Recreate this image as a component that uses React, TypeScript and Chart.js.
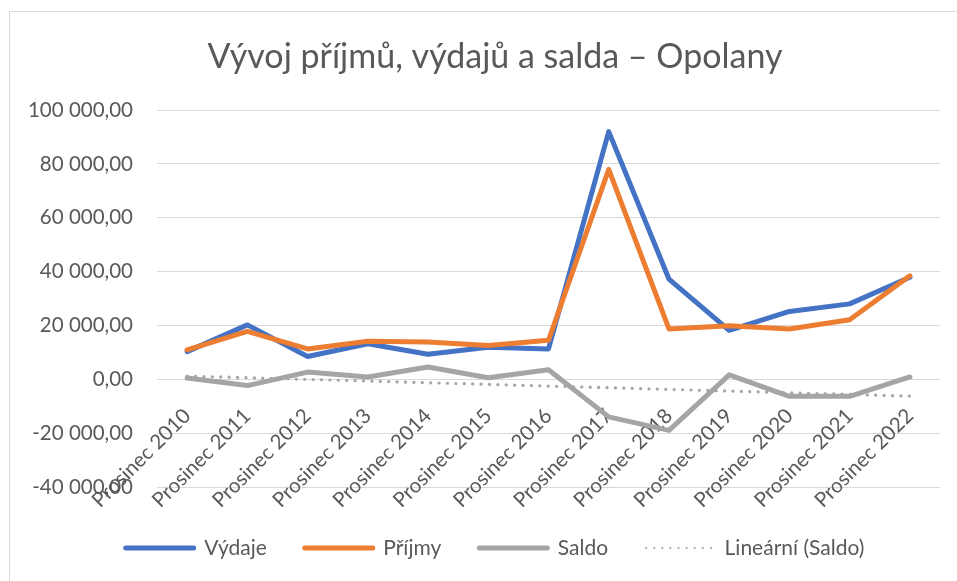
import React, { useEffect, useRef } from "react";
import { Chart, registerables } from "chart.js";

Chart.register(...registerables);

const categories = [
  "Prosinec 2010", "Prosinec 2011", "Prosinec 2012", "Prosinec 2013", "Prosinec 2014",
  "Prosinec 2015", "Prosinec 2016", "Prosinec 2017", "Prosinec 2018", "Prosinec 2019",
  "Prosinec 2020", "Prosinec 2021", "Prosinec 2022",
];
const vydaje = [10400, 20300, 8600, 13300, 9400, 12000, 11400, 92000, 37300, 18300, 25300, 28100, 38000];
const prijmy = [11000, 17900, 11400, 14200, 14000, 12700, 14600, 78000, 18800, 20000, 18800, 22200, 38500];
const saldo = [600, -2200, 2800, 1000, 4700, 700, 3700, -13800, -18800, 1800, -6200, -6200, 1000];

const yMin = -40000;
const yMax = 100000;
const yStep = 20000;

const title = "Vývoj příjmů, výdajů a salda – Opolany";
const seriesNames = ["Výdaje", "Příjmy", "Saldo", "Lineární (Saldo)"];
const colors = ["#4472C4", "#ED7D31", "#A5A5A5", "#A5A5A5"];

// Excel-style linear trendline (least squares) of Saldo
function linearTrend(values: number[]): number[] {
  const n = values.length;
  const mx = (n - 1) / 2;
  const my = values.reduce((a, b) => a + b, 0) / n;
  let sxy = 0;
  let sxx = 0;
  values.forEach((v, i) => {
    sxy += (i - mx) * (v - my);
    sxx += (i - mx) * (i - mx);
  });
  const slope = sxy / sxx;
  return values.map((_, i) => my + slope * (i - mx));
}

function fmt(v: number): string {
  const neg = v < 0;
  const s = Math.abs(v).toFixed(2);
  const [i, d] = s.split(".");
  const ii = i.replace(/\B(?=(\d{3})+(?!\d))/g, " ");
  return (neg ? "-" : "") + ii + "," + d;
}

const FONT = "Lato, 'Open Sans', sans-serif";
const TEXT = "#595959";
const FS = 20.5;

export default function App() {
  const ref = useRef<HTMLCanvasElement | null>(null);

  useEffect(() => {
    if (!ref.current) return;
    const trend = linearTrend(saldo);
    const chart = new Chart(ref.current, {
      type: "line",
      data: {
        labels: categories,
        datasets: [
          { label: seriesNames[0], data: vydaje, borderColor: colors[0], backgroundColor: colors[0], borderWidth: 5, pointRadius: 0, borderJoinStyle: "round", borderCapStyle: "round", order: 4 },
          { label: seriesNames[1], data: prijmy, borderColor: colors[1], backgroundColor: colors[1], borderWidth: 5, pointRadius: 0, borderJoinStyle: "round", borderCapStyle: "round", order: 3 },
          { label: seriesNames[2], data: saldo, borderColor: colors[2], backgroundColor: colors[2], borderWidth: 5, pointRadius: 0, borderJoinStyle: "round", borderCapStyle: "round", order: 2 },
          { label: seriesNames[3], data: trend, borderColor: colors[3], backgroundColor: colors[3], borderWidth: 3.2, pointRadius: 0, borderDash: [0.1, 8.3], borderCapStyle: "round", order: 1 },
        ],
      },
      options: {
        animation: false,
        responsive: false,
        devicePixelRatio: 1,
        layout: { padding: { left: 50, right: 17, top: 10, bottom: 12.5 } },
        scales: {
          x: {
            type: "category",
            offset: true,
            position: { y: 0 } as any,
            grid: { display: false },
            border: { display: false },
            ticks: {
              autoSkip: false,
              maxRotation: 45,
              minRotation: 45,
              padding: 16,
              color: TEXT,
              font: { family: FONT, size: FS },
            },
          },
          y: {
            min: yMin,
            max: yMax,
            border: { display: false },
            grid: { color: "#d9d9d9", lineWidth: 1, drawTicks: false },
            ticks: {
              stepSize: yStep,
              padding: 24,
              color: TEXT,
              font: { family: FONT, size: FS },
              callback: (v: any) => fmt(Number(v)),
            },
            afterFit: (s: any) => {
              s.width = 107;
              // let the tick labels extend past the scale box, like Excel does
              s._computeLabelArea = () => undefined;
            },
          },
        },
        plugins: {
          title: {
            display: true,
            text: title,
            color: TEXT,
            font: { family: FONT, size: 34, weight: "normal", lineHeight: 1.2 },
            padding: { top: 26.6, bottom: 32.6 },
          },
          legend: {
            position: "bottom",
            title: { display: true, text: "", font: { size: 10, lineHeight: 1.2 }, padding: { top: 0, bottom: 0 } },
            labels: {
              usePointStyle: true,
              pointStyleWidth: 68,
              padding: 38,
              color: TEXT,
              font: { family: FONT, size: 21 },
              generateLabels: () =>
                seriesNames.map((name, i) => ({
                  text: name,
                  fillStyle: colors[i],
                  strokeStyle: colors[i],
                  lineWidth: i === 3 ? 2.2 : 5,
                  lineCap: "round",
                  lineDash: i === 3 ? [0.1, 8] : [],
                  pointStyle: "line",
                  hidden: false,
                  datasetIndex: i,
                  fontColor: TEXT,
                })) as any,
            },
          },
          tooltip: { enabled: false },
        },
      } as any,
    });
    return () => chart.destroy();
  }, []);

  return (
    <div style={{ position: "fixed", left: 0, top: 0, width: 957, height: 581, background: "#fff" }}>
      <div
        style={{
          position: "absolute",
          left: 9,
          top: 11,
          right: 0,
          bottom: 0,
          borderLeft: "1px solid #d9d9d9",
          borderTop: "1px solid #d9d9d9",
        }}
      />
      <canvas ref={ref} width={957} height={581} style={{ position: "absolute", left: 0, top: 0, width: 957, height: 581 }} />
    </div>
  );
}
